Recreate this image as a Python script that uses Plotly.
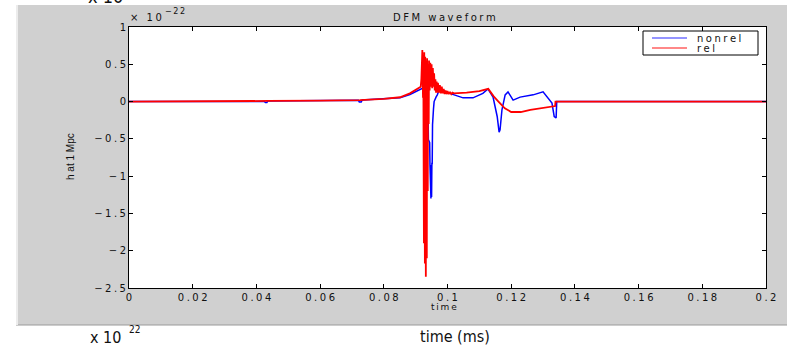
import plotly.graph_objects as go

# ---- data (h in units of 1e-22) ----
t_nonrel = [0.0, 0.0425, 0.0428, 0.0433, 0.0436, 0.060, 0.0720, 0.0723, 0.0729, 0.0732,
            0.080, 0.0851, 0.0882, 0.0903, 0.0916, 0.0923, 0.0930, 0.0936, 0.0939,
            0.0940, 0.0944, 0.0945, 0.0946, 0.0947, 0.0948, 0.0949, 0.0950, 0.0951,
            0.0952, 0.0953, 0.0956, 0.0958, 0.0964, 0.0968, 0.0975, 0.1000, 0.1049,
            0.1080, 0.1111, 0.1127, 0.1143, 0.1156, 0.1162, 0.1165, 0.1171, 0.1181,
            0.1190, 0.1206, 0.1228, 0.1269, 0.1300, 0.1316, 0.1328, 0.1335, 0.1341,
            0.1343, 0.1400, 0.2000]
h_nonrel = [0.0, 0.0, -0.012, -0.012, 0.008, 0.012, 0.019, -0.005, -0.005, 0.020,
            0.033, 0.052, 0.095, 0.140, 0.165, 0.180, 0.100, -0.050, -0.070,
            -0.510, -0.550, -0.850, -1.290, -0.900, -1.300, -0.850, -1.280, -0.830,
            -0.830, -0.310, -0.100, 0.000, 0.060, 0.090, 0.170, 0.120, 0.050,
            0.050, 0.110, 0.170, 0.060, -0.200, -0.410, -0.380, -0.110, 0.090,
            0.130, 0.020, 0.060, 0.090, 0.130, 0.040, -0.020, -0.200, -0.220,
            0.0, 0.0, 0.0]

t_rel = [0.0, 0.0425, 0.0436, 0.060, 0.0725, 0.080, 0.0851, 0.0882, 0.0903, 0.0916,
         0.0918, 0.0921, 0.0923, 0.0924, 0.0926, 0.0927, 0.0929, 0.0930, 0.0932,
         0.0933, 0.0935, 0.0936, 0.0938, 0.0939, 0.0941, 0.0942, 0.0944, 0.0946,
         0.0948, 0.0950, 0.0952, 0.0954, 0.0956, 0.0958, 0.0960, 0.0962, 0.0964,
         0.0966, 0.0968, 0.0970, 0.0973, 0.0976, 0.0979, 0.0982, 0.0985, 0.0988,
         0.0991, 0.0994, 0.0997, 0.1000, 0.1004, 0.1008, 0.1012, 0.1016, 0.1020,
         0.1040, 0.1060, 0.1080, 0.1100, 0.1128, 0.1145, 0.1160, 0.1180, 0.1200,
         0.1230, 0.1260, 0.1300, 0.1338, 0.1339, 0.1400, 0.2000]
h_rel = [0.0, 0.0, 0.008, 0.012, 0.020, 0.035, 0.058, 0.110, 0.165, 0.200,
         0.300, 0.690, 0.050, 0.620, -1.900, 0.660, -2.170, 0.600, -2.350,
         0.550, -2.100, 0.580, -1.200, 0.500, -0.300, 0.550, 0.150, 0.520,
         0.200, 0.500, 0.180, 0.450, 0.200, 0.380, 0.150, 0.300, 0.120,
         0.270, 0.120, 0.250, 0.120, 0.220, 0.110, 0.200, 0.110, 0.170,
         0.100, 0.150, 0.100, 0.140, 0.100, 0.130, 0.100, 0.120, 0.110,
         0.120, 0.120, 0.130, 0.140, 0.170, 0.070, 0.000, -0.090, -0.140,
         -0.140, -0.110, -0.080, -0.060, 0.0, 0.0, 0.0]

x_tickvals = [0, 0.02, 0.04, 0.06, 0.08, 0.1, 0.12, 0.14, 0.16, 0.18, 0.2]
x_ticklabels = ["0", "0.02", "0.04", "0.06", "0.08", "0.1", "0.12", "0.14", "0.16", "0.18", "0.2"]
y_tickvals = [-2.5, -2, -1.5, -1, -0.5, 0, 0.5, 1]
y_ticklabels = ["−2.5", "−2", "−1.5", "−1", "−0.5", "0", "0.5", "1"]
series_names = ["nonrel", "rel"]
series_colors = ["#0000ff", "#ff0000"]

# ---- layout geometry (pixels) ----
W, H = 787, 346
L, R, T, B = 129, 766, 27, 288
PW, PH = R - L, B - T


def xp(px):
    return (px - L) / PW


def yp(py):
    return (B - py) / PH


def sp(s, ch="\u2005"):
    return ch.join(s)


FONT = "DejaVu Sans"
NARROW = "Liberation Sans Narrow, DejaVu Sans Condensed, Liberation Sans, sans-serif"
fig = go.Figure()
fig.add_trace(go.Scatter(x=t_nonrel, y=h_nonrel, mode="lines", name=series_names[0],
                         line=dict(color=series_colors[0], width=1.5), showlegend=False))
fig.add_trace(go.Scatter(x=t_rel, y=h_rel, mode="lines", name=series_names[1],
                         line=dict(color=series_colors[1], width=1.8), showlegend=False))

axis_common = dict(showline=True, linecolor="black", linewidth=1, mirror="ticks",
                   ticks="inside", ticklen=4, tickcolor="black", showgrid=False,
                   zeroline=False, tickfont=dict(family=FONT, size=10, color="#111"))
fig.update_xaxes(range=[0, 0.2], tickmode="array", tickvals=x_tickvals,
                 ticktext=[sp(s) for s in x_ticklabels], **axis_common)
fig.update_yaxes(range=[-2.5, 1], tickmode="array", tickvals=y_tickvals,
                 ticktext=[sp(s) for s in y_ticklabels], **axis_common)

shapes = [
    # gray figure panel
    dict(type="rect", xref="paper", yref="paper", x0=xp(16), x1=xp(790), y0=yp(325), y1=yp(5),
         fillcolor="#d0d0d0", line=dict(width=0), layer="below"),
    dict(type="line", xref="paper", yref="paper", x0=xp(16), x1=xp(790), y0=yp(325), y1=yp(325),
         line=dict(color="#9a9a9a", width=1), layer="below"),
    dict(type="line", xref="paper", yref="paper", x0=xp(17), x1=xp(17), y0=yp(325), y1=yp(5),
         line=dict(color="#ececec", width=2), layer="below"),
    # white axes area
    dict(type="rect", xref="paper", yref="paper", x0=0, x1=1, y0=0, y1=1,
         fillcolor="white", line=dict(width=0), layer="below"),
    # legend box
    dict(type="rect", xref="paper", yref="paper", x0=xp(643), x1=xp(758), y0=yp(55), y1=yp(31),
         fillcolor="white", line=dict(color="black", width=1), layer="above"),
    dict(type="line", xref="paper", yref="paper", x0=xp(652), x1=xp(687), y0=yp(38), y1=yp(38),
         line=dict(color="#7070ff", width=1.5), layer="above"),
    dict(type="line", xref="paper", yref="paper", x0=xp(652), x1=xp(687), y0=yp(48), y1=yp(48),
         line=dict(color="#ff6060", width=1.5), layer="above"),
]

ann = []


def add_text(text, x, y, size=10, family=FONT, xanchor="left", yanchor="middle", angle=0, color="#111"):
    ann.append(dict(text=text, xref="paper", yref="paper", x=xp(x), y=yp(y), showarrow=False,
                    xanchor=xanchor, yanchor=yanchor, textangle=angle,
                    font=dict(family=family, size=size, color=color)))


add_text(sp("DFM waveform"), 444, 18, xanchor="center")
add_text(sp("time", "\u2009"), 444, 307, size=9, xanchor="center")
add_text("h at 1 Mpc", 70, 157, size=10, family="Liberation Sans", xanchor="center", angle=-90)
add_text(sp("× 10"), 128, 18)
add_text(sp("−22", "\u2009"), 163, 12, size=8)
add_text(sp(series_names[0]), 695, 38)
add_text(sp(series_names[1]), 695, 48)
# fragments of neighbouring page content
add_text("x 10", 88, 337, size=16, family=NARROW)
add_text("22", 127, 329, size=10, family=NARROW)
add_text("time (ms)", 418, 336, size=16, family=NARROW)
add_text("x 10", 86, -4, size=18, family=NARROW)

fig.update_layout(width=W, height=H, margin=dict(l=L, r=W - R, t=T, b=H - B),
                  paper_bgcolor="white", plot_bgcolor="white",
                  shapes=shapes, annotations=ann, showlegend=False)

fig.write_html("out.html", config={"displayModeBar": False},
               post_script="document.body.style.margin='0px';document.body.style.overflow='hidden';")
